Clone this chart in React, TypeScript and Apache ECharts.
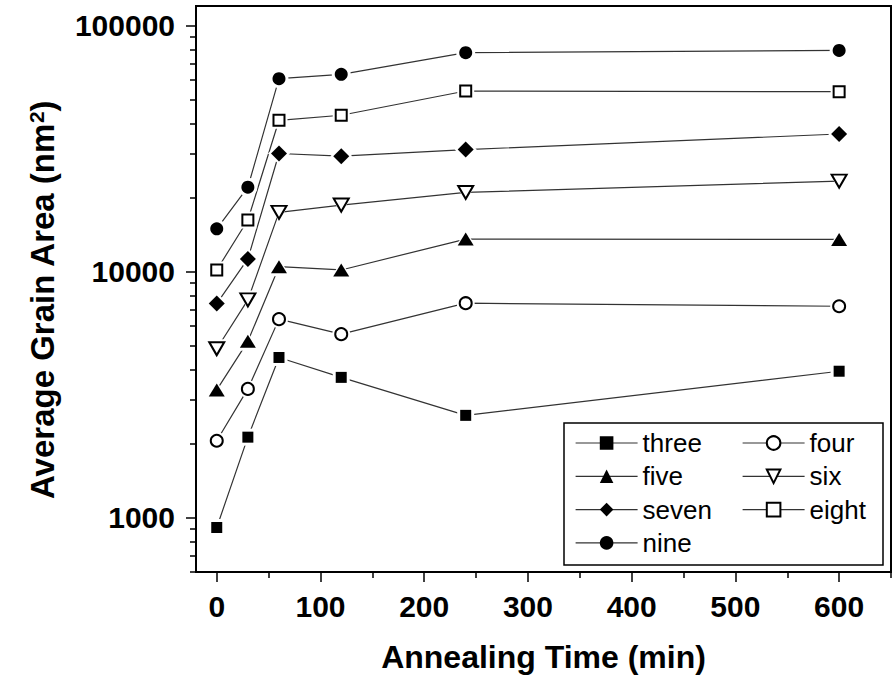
import React, { useEffect, useRef } from "react";
import * as echarts from "echarts";

// Annealing time (min)
const TIMES = [0, 30, 60, 120, 240, 600];

// Average grain area (nm^2) for each sample
const THREE = [910, 2120, 4470, 3710, 2600, 3930];
const FOUR = [2050, 3330, 6400, 5560, 7430, 7220];
const FIVE = [3300, 5200, 10460, 10140, 13540, 13500];
const SIX = [4850, 7660, 17380, 18620, 20950, 23300];
const SEVEN = [7400, 11240, 30160, 29410, 31290, 36200];
const EIGHT = [10140, 16180, 41170, 43150, 54150, 53800];
const NINE = [14900, 22000, 60800, 63300, 77500, 79200];

const SERIES_NAMES = ["three", "four", "five", "six", "seven", "eight", "nine"];
const SERIES_VALUES = [THREE, FOUR, FIVE, SIX, SEVEN, EIGHT, NINE];

const LEFT_LEGEND = ["three", "five", "seven", "nine"];
const RIGHT_LEGEND = ["four", "six", "eight"];

// Axis ticks / labels
const X_MAJOR = [0, 100, 200, 300, 400, 500, 600];
const X_MINOR = [50, 150, 250, 350, 450, 550, 650];
const Y_MAJOR = [1000, 10000, 100000];
const Y_MINOR = [
  600, 700, 800, 900,
  2000, 3000, 4000, 5000, 6000, 7000, 8000, 9000,
  20000, 30000, 40000, 50000, 60000, 70000, 80000, 90000,
];

const FONT = "'Liberation Sans', Arial, Helvetica, sans-serif";

type Marker = { symbol: string; solid: string; size: number | number[]; rotate: number; hollow: boolean };
const MARKERS: Marker[] = [
  { symbol: "rect", solid: "rect", size: 11, rotate: 0, hollow: false },
  { symbol: "emptyCircle", solid: "circle", size: 12, rotate: 0, hollow: true },
  { symbol: "triangle", solid: "triangle", size: [16, 13], rotate: 0, hollow: false },
  { symbol: "emptyTriangle", solid: "triangle", size: [15, 13], rotate: 180, hollow: true },
  { symbol: "diamond", solid: "diamond", size: 16, rotate: 0, hollow: false },
  { symbol: "emptyRect", solid: "rect", size: 11, rotate: 0, hollow: true },
  { symbol: "circle", solid: "circle", size: 13, rotate: 0, hollow: false },
];

function grow(size: number | number[], d: number): number | number[] {
  return Array.isArray(size) ? size.map((s) => s + d) : size + d;
}

export default function App() {
  const ref = useRef<HTMLDivElement>(null);

  useEffect(() => {
    if (!ref.current) return;
    const chart = echarts.init(ref.current, null, { renderer: "svg" });

    const markerSeries: any[] = [];
    const lineSeries: any[] = [];
    SERIES_NAMES.forEach((name, i) => {
      const data = TIMES.map((t, j) => [t, SERIES_VALUES[i][j]]);
      const m = MARKERS[i];
      markerSeries.push({
        type: "line",
        name,
        data,
        symbol: m.symbol,
        symbolSize: m.size,
        symbolRotate: m.rotate,
        showSymbol: true,
        silent: true,
        z: 5,
        lineStyle: { width: 0, opacity: 0 },
        itemStyle: m.hollow
          ? { color: "#000", borderColor: "#000", borderWidth: 1.3 }
          : { color: "#000", borderWidth: 0 },
      });
      lineSeries.push({
        type: "line",
        name,
        data,
        symbol: m.solid,
        symbolSize: grow(m.size, 6),
        symbolRotate: m.rotate,
        showSymbol: true,
        silent: true,
        z: 3,
        lineStyle: { color: "#333", width: 1.2 },
        itemStyle: { color: "#fff", borderWidth: 0 },
      });
    });

    const legendCommon = {
      orient: "vertical",
      top: 428,
      padding: 0,
      itemGap: 3.3,
      itemWidth: 62,
      itemHeight: 17,
      selectedMode: false,
      textStyle: { fontSize: 26, color: "#000", fontFamily: FONT, lineHeight: 30 },
      lineStyle: { color: "#333", width: 1.2, opacity: 1, type: "solid" },
    };

    chart.setOption({
      animation: false,
      backgroundColor: "#fff",
      textStyle: { fontFamily: FONT },
      grid: {
        left: 196,
        right: 2,
        top: 6,
        bottom: 106,
        show: true,
        borderColor: "#000",
        borderWidth: 2,
        backgroundColor: "transparent",
      },
      legend: [
        { ...legendCommon, left: 575, data: LEFT_LEGEND },
        { ...legendCommon, left: 742, data: RIGHT_LEGEND },
      ],
      graphic: [
        {
          type: "rect",
          shape: { x: 564, y: 423, width: 319, height: 142 },
          style: { fill: "none", stroke: "#000", lineWidth: 1.5 },
          z: 10,
          silent: true,
        },
      ],
      xAxis: [
        {
          type: "value",
          min: -20,
          max: 650,
          position: "bottom",
          axisLine: { show: true, onZero: false, lineStyle: { color: "#000", width: 2 } },
          axisTick: { show: true, customValues: X_MAJOR, length: 10, lineStyle: { color: "#000", width: 1.5 } },
          axisLabel: {
            customValues: X_MAJOR,
            fontSize: 30,
            fontWeight: "bold",
            color: "#000",
            margin: 19,
            fontFamily: FONT,
            formatter: (v: number) => String(Math.round(v)),
          },
          splitLine: { show: false },
          name: "Annealing Time (min)",
          nameLocation: "middle",
          nameGap: 69,
          nameTextStyle: { fontSize: 32, fontWeight: "bold", color: "#000", fontFamily: FONT },
        },
        {
          type: "value",
          min: -20,
          max: 650,
          position: "bottom",
          axisLine: { show: false, onZero: false },
          axisTick: { show: true, customValues: X_MINOR, length: 6, lineStyle: { color: "#000", width: 1.5 } },
          axisLabel: { show: false },
          splitLine: { show: false },
        },
      ],
      yAxis: [
        {
          type: "log",
          logBase: 10,
          min: 600,
          max: 120000,
          position: "left",
          axisLine: { show: true, onZero: false, lineStyle: { color: "#000", width: 2 } },
          axisTick: { show: true, customValues: Y_MAJOR, length: 10, lineStyle: { color: "#000", width: 1.5 } },
          axisLabel: {
            customValues: Y_MAJOR,
            fontSize: 30,
            fontWeight: "bold",
            color: "#000",
            margin: 21,
            fontFamily: FONT,
            formatter: (v: number) => String(Math.round(v)),
          },
          splitLine: { show: false },
          minorSplitLine: { show: false },
          name: "Average Grain Area (nm{sup|2})",
          nameLocation: "middle",
          nameGap: 137,
          nameTextStyle: {
            fontSize: 33,
            fontWeight: "bold",
            color: "#000",
            fontFamily: FONT,
            padding: [0, 22, 0, 0],
            rich: {
              sup: { fontSize: 21, fontWeight: "bold", color: "#000", fontFamily: FONT, verticalAlign: "top" },
            },
          },
        },
        {
          type: "log",
          logBase: 10,
          min: 600,
          max: 120000,
          position: "left",
          axisLine: { show: false, onZero: false },
          axisTick: { show: true, customValues: Y_MINOR, length: 6, lineStyle: { color: "#000", width: 1.5 } },
          axisLabel: { show: false },
          splitLine: { show: false },
        },
      ],
      series: [...markerSeries, ...lineSeries],
    });

    return () => chart.dispose();
  }, []);

  return (
    <div
      ref={ref}
      style={{ position: "fixed", left: 0, top: 0, width: 893, height: 678, background: "#fff" }}
    />
  );
}
